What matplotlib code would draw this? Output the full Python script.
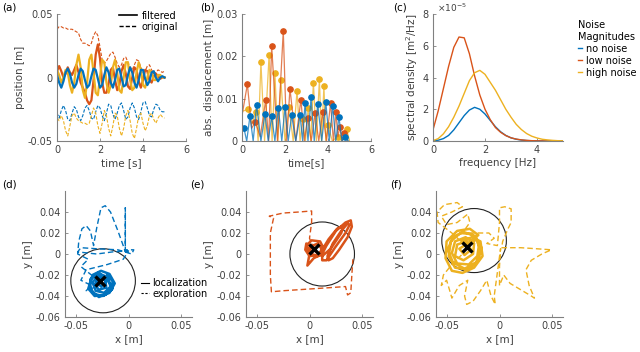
import numpy as np
import matplotlib
matplotlib.use("Agg")
import matplotlib.pyplot as plt
from matplotlib.lines import Line2D
from matplotlib.patches import Circle

plt.rcParams['font.family'] = ['DejaVu Sans']

BLUE = '#0072BD'
ORANGE = '#D95319'
YELLOW = '#EDB120'
TXT = '#404040'
SPINE = '#808080'

# ---- (a) position vs time ----
t_a = [i / 10 for i in range(51)]
a_blue = [0.002, -0.004, -0.008, -0.003, 0.004, 0.007, 0.003, -0.004, -0.008, -0.005,
          0.002, 0.007, 0.005, -0.002, -0.008, -0.006, 0.001, 0.007, 0.006, -0.001,
          -0.008, -0.006, 0.002, 0.008, 0.004, -0.004, -0.008, -0.002, 0.006, 0.007,
          0.000, -0.007, -0.006, 0.002, 0.008, 0.004, -0.004, -0.008, -0.002, 0.006,
          0.006, -0.001, -0.006, -0.003, 0.004, 0.005, 0.000, -0.003, 0.000, 0.001, 0.000]
a_orange = [0.005, 0.009, 0.005, 0.000, 0.003, 0.008, 0.004, 0.002, 0.006, 0.010,
            0.004, -0.004, -0.008, -0.012, -0.018, -0.021, -0.018, -0.002, 0.018, 0.026,
            0.015, -0.004, -0.012, -0.012, -0.005, 0.006, 0.008, -0.002, -0.010, -0.006,
            0.005, 0.010, 0.003, -0.007, -0.009, 0.000, 0.008, 0.006, -0.003, -0.008,
            -0.002, 0.006, 0.005, -0.002, -0.004, 0.001, 0.003, 0.001, -0.001, 0.000, 0.000]
a_yellow = [0.006, 0.002, -0.004, 0.000, 0.006, 0.004, -0.006, -0.012, -0.004, 0.010,
            0.018, 0.008, -0.010, -0.016, -0.004, 0.014, 0.018, 0.004, -0.012, -0.014,
            0.000, 0.014, 0.012, -0.004, -0.012, -0.006, 0.008, 0.014, 0.004, -0.010,
            -0.012, 0.000, 0.012, 0.012, -0.002, -0.010, -0.008, 0.004, 0.012, 0.006,
            -0.006, -0.008, 0.000, 0.006, 0.004, -0.002, -0.002, 0.002, 0.002, 0.000, 0.000]
a_orange_raw = [0.038, 0.040, 0.040, 0.039, 0.039, 0.038, 0.038, 0.038, 0.037, 0.036,
                0.035, 0.030, 0.027, 0.027, 0.026, 0.025, 0.027, 0.033, 0.036, 0.033,
                0.024, 0.014, 0.011, 0.013, 0.016, 0.019, 0.020, 0.016, 0.011, 0.008,
                0.010, 0.015, 0.016, 0.012, 0.008, 0.006, 0.010, 0.014, 0.013, 0.008,
                0.004, 0.005, 0.009, 0.010, 0.006, 0.003, 0.004, 0.006, 0.005, 0.004, 0.005]
a_blue_raw = [-0.028, -0.032, -0.026, -0.022, -0.026, -0.033, -0.034, -0.028, -0.023, -0.025,
              -0.031, -0.034, -0.030, -0.024, -0.022, -0.026, -0.032, -0.033, -0.027, -0.022,
              -0.024, -0.030, -0.034, -0.028, -0.021, -0.022, -0.029, -0.033, -0.028, -0.022,
              -0.020, -0.026, -0.033, -0.031, -0.024, -0.020, -0.024, -0.031, -0.033, -0.027,
              -0.020, -0.019, -0.024, -0.030, -0.031, -0.025, -0.021, -0.022, -0.026, -0.027, -0.027]
a_yellow_raw = [-0.032, -0.034, -0.030, -0.034, -0.042, -0.046, -0.038, -0.030, -0.028, -0.032,
                -0.034, -0.035, -0.036, -0.036, -0.037, -0.036, -0.030, -0.024, -0.028, -0.038,
                -0.044, -0.036, -0.026, -0.030, -0.040, -0.046, -0.038, -0.028, -0.030, -0.040,
                -0.046, -0.040, -0.030, -0.026, -0.034, -0.044, -0.048, -0.040, -0.030, -0.028,
                -0.036, -0.042, -0.038, -0.030, -0.028, -0.033, -0.036, -0.032, -0.029, -0.031, -0.032]

# ---- (b) abs. displacement: peaks (with markers) and lows ----
b_blue_pk_t = [0.09, 0.37, 0.68, 1.07, 1.38, 1.69, 2.00, 2.31, 2.70, 2.93, 3.21, 3.52, 3.90, 4.22, 4.51, 4.80]
b_blue_pk_v = [0.003, 0.0059, 0.0085, 0.0063, 0.0059, 0.0079, 0.008, 0.0061, 0.0061, 0.0089,
               0.0103, 0.0087, 0.0091, 0.0083, 0.0056, 0.001]
b_blue_lo_t = [0.0, 0.22, 0.52, 0.88, 1.22, 1.53, 1.85, 2.15, 2.50, 2.82, 3.07, 3.36, 3.71, 4.06, 4.36, 4.65, 4.95]
b_blue_lo_v = [0.002, 0, 0, 0, 0, 0, 0, 0, 0, 0, 0, 0, 0, 0, 0, 0, 0]

b_orange_pk_t = [0.25, 0.62, 1.10, 1.38, 1.92, 2.23, 2.74, 3.05, 3.40, 3.75, 4.12, 4.37, 4.55, 4.75]
b_orange_pk_v = [0.0134, 0.0045, 0.0096, 0.0224, 0.026, 0.0124, 0.0098, 0.0055, 0.0065, 0.0068,
                 0.009, 0.0068, 0.0034, 0.0018]
b_orange_lo_t = [0.0, 0.45, 0.85, 1.24, 1.65, 2.08, 2.50, 2.90, 3.22, 3.57, 3.93, 4.25, 4.46, 4.65, 4.90]
b_orange_lo_v = [0.006, 0.003, 0.001, 0, 0, 0, 0, 0, 0, 0, 0, 0, 0.001, 0, 0]

b_yellow_pk_t = [0.29, 0.65, 0.88, 1.26, 1.53, 1.81, 2.19, 2.56, 2.82, 3.08, 3.32, 3.60, 3.81, 4.00, 4.45, 4.87]
b_yellow_pk_v = [0.0075, 0.0069, 0.0186, 0.0203, 0.016, 0.0143, 0.008, 0.0119, 0.0051, 0.0079,
                 0.0138, 0.0146, 0.013, 0.0038, 0.001, 0.0028]
b_yellow_lo_t = [0.0, 0.45, 0.75, 1.05, 1.40, 1.67, 2.00, 2.38, 2.70, 2.95, 3.20, 3.46, 3.70, 3.90, 4.20, 4.65, 5.00]
b_yellow_lo_v = [0.007, 0.004, 0, 0, 0, 0, 0, 0, 0, 0, 0, 0, 0, 0, 0, 0, 0]

# ---- (c) spectral density (x1e-5) ----
freq = [0.0, 0.2, 0.4, 0.6, 0.8, 1.0, 1.2, 1.4, 1.6, 1.8, 2.0, 2.2, 2.4, 2.6, 2.8, 3.0,
        3.2, 3.4, 3.6, 3.8, 4.0, 4.2, 4.4, 4.6, 4.8, 5.0]
psd_none = [0.02, 0.05, 0.15, 0.35, 0.70, 1.15, 1.60, 1.95, 2.12, 2.00, 1.70, 1.30, 0.90, 0.58,
            0.35, 0.20, 0.11, 0.06, 0.03, 0.015, 0.008, 0.004, 0.002, 0.001, 0.0, 0.0]
psd_low = [0.70, 1.90, 3.30, 4.70, 5.90, 6.55, 6.50, 5.50, 4.10, 2.90, 2.00, 1.35, 0.85, 0.55,
           0.34, 0.20, 0.12, 0.07, 0.04, 0.02, 0.01, 0.005, 0.002, 0.001, 0.0, 0.0]
psd_high = [0.02, 0.15, 0.45, 0.90, 1.50, 2.20, 3.00, 3.80, 4.30, 4.45, 4.20, 3.70, 3.20, 2.60,
            2.00, 1.50, 1.05, 0.72, 0.47, 0.30, 0.19, 0.11, 0.07, 0.04, 0.02, 0.01]
noise_labels = ['no noise', 'low noise', 'high noise']

# ---- (d)-(f) trajectories ----
d_loc_x = [-0.027, -0.020, -0.015, -0.016, -0.024, -0.033, -0.037, -0.034, -0.026, -0.018,
           -0.013, -0.018, -0.028, -0.036, -0.036, -0.029, -0.020, -0.017, -0.023, -0.031,
           -0.034, -0.029, -0.022, -0.021, -0.028, -0.032, -0.028, -0.019, -0.015, -0.022,
           -0.032, -0.038, -0.035, -0.027, -0.021, -0.026, -0.030]
d_loc_y = [-0.026, -0.020, -0.026, -0.034, -0.040, -0.038, -0.030, -0.020, -0.016, -0.019,
           -0.028, -0.037, -0.041, -0.034, -0.024, -0.018, -0.022, -0.031, -0.037, -0.035,
           -0.027, -0.021, -0.024, -0.032, -0.034, -0.029, -0.023, -0.025, -0.033, -0.039,
           -0.040, -0.033, -0.023, -0.019, -0.027, -0.031, -0.026]
d_exp_x = [-0.027, -0.035, -0.045, -0.038, -0.048, -0.047, -0.044, -0.040, -0.036, -0.033,
           -0.030, -0.026, -0.022, -0.017, -0.010, -0.005, -0.003, -0.003, -0.003, 0.005,
           0.003, -0.010, -0.030, -0.045, -0.048, -0.030, -0.015, 0.000, -0.005, -0.020,
           -0.040, -0.045, -0.035, -0.040, -0.028]
d_exp_y = [-0.025, -0.020, -0.012, -0.005, 0.000, 0.012, 0.024, 0.027, 0.022, 0.008,
           0.025, 0.044, 0.046, 0.040, 0.022, 0.008, 0.002, 0.044, 0.004, 0.004,
           0.000, 0.004, 0.005, 0.006, 0.002, 0.000, 0.002, 0.003, -0.005, -0.010,
           -0.015, -0.025, -0.030, -0.035, -0.030]

e_loc_x = [0.004, -0.003, -0.004, 0.000, 0.008, 0.013, 0.010, 0.002, -0.003, 0.000,
           -0.002, 0.004, 0.012, 0.016, 0.025, 0.034, 0.039, 0.040, 0.036, 0.028,
           0.022, 0.018, 0.017, 0.022, 0.030, 0.036, 0.038, 0.034, 0.024, 0.016,
           0.012, 0.012, 0.018, 0.026, 0.032, 0.030, 0.020, 0.012, 0.006, 0.003,
           0.008, 0.012, 0.008, 0.002, 0.000, 0.004]
e_loc_y = [0.005, 0.010, 0.004, -0.002, -0.001, 0.006, 0.012, 0.013, 0.008, 0.000,
           -0.011, -0.004, 0.000, 0.008, 0.022, 0.030, 0.032, 0.026, 0.016, 0.004,
           -0.004, -0.006, -0.002, 0.010, 0.022, 0.029, 0.028, 0.020, 0.006, -0.006,
           -0.006, 0.004, 0.014, 0.024, 0.027, 0.020, 0.005, -0.002, 0.002, 0.008,
           0.010, 0.004, -0.002, 0.000, 0.006, 0.005]
e_exp_x = [0.004, 0.000, 0.002, 0.002, -0.010, -0.025, -0.038, -0.034, -0.037, -0.037,
           -0.037, -0.036, -0.025, -0.010, 0.005, 0.020, 0.034, 0.036, 0.039, 0.040, 0.041]
e_exp_y = [0.005, 0.015, 0.030, 0.041, 0.040, 0.039, 0.036, 0.034, 0.020, 0.000,
           -0.020, -0.036, -0.035, -0.034, -0.033, -0.032, -0.031, -0.039, -0.037, -0.020, -0.005]

f_loc_x = [-0.031, -0.022, -0.018, -0.022, -0.033, -0.044, -0.049, -0.044, -0.034, -0.023,
           -0.017, -0.020, -0.030, -0.042, -0.048, -0.046, -0.037, -0.026, -0.019, -0.021,
           -0.029, -0.040, -0.045, -0.042, -0.032, -0.024, -0.025, -0.034, -0.042, -0.040,
           -0.031, -0.027, -0.033, -0.038, -0.030, -0.020, -0.028, -0.040, -0.050, -0.051,
           -0.045, -0.035, -0.024, -0.016, -0.018, -0.026, -0.036, -0.031]
f_loc_y = [0.007, 0.014, 0.004, -0.008, -0.014, -0.008, 0.004, 0.016, 0.021, 0.017,
           0.006, -0.006, -0.015, -0.013, -0.002, 0.012, 0.020, 0.019, 0.011, -0.002,
           -0.010, -0.009, 0.001, 0.012, 0.016, 0.010, 0.000, -0.006, -0.002, 0.009,
           0.012, 0.004, -0.001, 0.005, 0.010, 0.018, 0.024, 0.022, 0.012, -0.004,
           -0.016, -0.018, -0.013, -0.002, 0.012, 0.016, 0.012, 0.007]
f_exp_x = [-0.031, -0.045, -0.058, -0.059, -0.052, -0.040, -0.035, -0.045, -0.055, -0.050,
           -0.040, -0.030, -0.028, -0.035, -0.020, -0.010, -0.005, -0.012, -0.002, 0.000,
           0.000, 0.005, 0.011, 0.011, 0.008, 0.003, 0.002, 0.020, 0.035, 0.049,
           0.040, 0.030, 0.025, 0.028, 0.033, 0.030, 0.020, 0.010, 0.004, 0.000,
           0.000, 0.001, -0.005, -0.004, -0.008, -0.012, -0.018, -0.025, -0.031, -0.033,
           -0.030, -0.038, -0.045, -0.047, -0.050, -0.055, -0.053, -0.045, -0.035]
f_exp_y = [0.007, 0.020, 0.030, 0.040, 0.047, 0.049, 0.045, 0.040, 0.036, 0.028,
           0.030, 0.038, 0.030, 0.020, 0.020, 0.020, 0.015, 0.010, 0.008, 0.030,
           0.044, 0.045, 0.043, 0.030, 0.024, 0.012, 0.006, 0.006, 0.005, 0.004,
           0.000, -0.006, -0.015, -0.030, -0.042, -0.040, -0.034, -0.028, -0.020, -0.030,
           -0.012, 0.005, -0.040, -0.048, -0.040, -0.025, -0.035, -0.045, -0.048, -0.040,
           -0.025, -0.030, -0.042, -0.035, -0.025, -0.030, -0.020, -0.010, 0.000]

circle_x = [-0.024, 0.012, -0.024]
circle_y = [-0.0255, 0.0, 0.0128]
circle_r = [0.0305, 0.0305, 0.0305]
target_x = [-0.027, 0.004, -0.031]
target_y = [-0.026, 0.005, 0.0066]


def style(ax, fs=7):
    for s in ['top', 'right']:
        ax.spines[s].set_visible(False)
    for s in ['left', 'bottom']:
        ax.spines[s].set_color(SPINE)
        ax.spines[s].set_linewidth(0.8)
    ax.tick_params(direction='in', length=2.5, width=0.6, colors=SPINE,
                   labelcolor=TXT, labelsize=fs, pad=3)


def zigzag(pk_t, pk_v, lo_t, lo_v):
    t = np.array(pk_t + lo_t)
    v = np.array(pk_v + lo_v)
    o = np.argsort(t)
    return t[o], v[o]


fig = plt.figure(figsize=(6.4, 3.52), dpi=100)
W, H = 640.0, 352.0


def axes_px(l, t, r, b):
    return fig.add_axes([l / W, 1 - b / H, (r - l) / W, (b - t) / H])


# (a)
ax = axes_px(57, 14, 186, 141)
style(ax)
for y, c in [(a_orange_raw, ORANGE), (a_blue_raw, BLUE), (a_yellow_raw, YELLOW)]:
    ax.plot(t_a, y, '--', color=c, lw=0.8, dashes=(3, 1.5))
ax.plot(t_a, a_orange, color=ORANGE, lw=1.6)
ax.plot(t_a, a_yellow, color=YELLOW, lw=1.6)
ax.plot(t_a, a_blue, color=BLUE, lw=1.6)
ax.set_xlim(0, 6)
ax.set_ylim(-0.05, 0.05)
ax.set_xticks([0, 2, 4, 6])
ax.set_yticks([-0.05, 0, 0.05])
ax.set_yticklabels(['-0.05', '0', '0.05'])
ax.set_xlabel('time [s]', fontsize=7.5, color=TXT, labelpad=2)
ax.set_ylabel('position [m]', fontsize=7.5, color=TXT, labelpad=2)
h = [Line2D([], [], color='k', lw=1.2), Line2D([], [], color='k', lw=1.0, ls='--', dashes=(3, 1.5))]
ax.legend(h, ['filtered', 'original'], loc='upper right', bbox_to_anchor=(0.99, 1.08),
          frameon=False, fontsize=7, handlelength=1.8, handletextpad=0.5,
          labelspacing=0.1, borderpad=0.2)
fig.text(2 / W, 1 - 8 / H, '(a)', fontsize=7.5, va='center')

# (b)
ax = axes_px(242, 14, 371, 141)
style(ax)
for pk_t, pk_v, lo_t, lo_v, c in [
        (b_yellow_pk_t, b_yellow_pk_v, b_yellow_lo_t, b_yellow_lo_v, YELLOW),
        (b_orange_pk_t, b_orange_pk_v, b_orange_lo_t, b_orange_lo_v, ORANGE),
        (b_blue_pk_t, b_blue_pk_v, b_blue_lo_t, b_blue_lo_v, BLUE)]:
    tt, vv = zigzag(pk_t, pk_v, lo_t, lo_v)
    ax.plot(tt, vv, color=c, lw=0.9, alpha=0.75)
    ax.plot(pk_t, pk_v, 'o', color=c, ms=3.8, mec=c)
ax.set_xlim(0, 6)
ax.set_ylim(0, 0.03)
ax.set_xticks([0, 2, 4, 6])
ax.set_yticks([0, 0.01, 0.02, 0.03])
ax.set_yticklabels(['0', '0.01', '0.02', '0.03'])
ax.set_xlabel('time[s]', fontsize=7.5, color=TXT, labelpad=2)
ax.set_ylabel('abs. displacement [m]', fontsize=7.5, color=TXT, labelpad=2)
fig.text(200 / W, 1 - 8 / H, '(b)', fontsize=7.5, va='center')

# (c)
ax = axes_px(433, 14, 563, 141)
style(ax)
for p, c, lab in zip([psd_none, psd_low, psd_high], [BLUE, ORANGE, YELLOW], noise_labels):
    ax.plot(freq, p, color=c, lw=1.0, label=lab)
ax.set_xlim(0, 5)
ax.set_ylim(0, 8)
ax.set_xticks([0, 2, 4])
ax.set_yticks([0, 2, 4, 6, 8])
ax.set_yticklabels(['0', '2', '4', '6', '8'])
fig.text(437 / W, 1 - 8 / H, r'$\times 10^{-5}$', fontsize=6.5, color=TXT, va='center')
ax.set_xlabel('frequency [Hz]', fontsize=7.5, color=TXT, labelpad=2)
ax.set_ylabel('spectral density [m$^2$/Hz]', fontsize=7.5, color=TXT, labelpad=2)
leg = ax.legend(loc='upper left', bbox_to_anchor=(1.05, 1.02), frameon=False, fontsize=7,
                handlelength=0.4, handletextpad=0.4, labelspacing=0.2,
                title='Noise\nMagnitudes', title_fontsize=7, alignment='left')
fig.text(393 / W, 1 - 8 / H, '(c)', fontsize=7.5, va='center')

# (d)-(f)
panels = [
    (65, d_loc_x, d_loc_y, d_exp_x, d_exp_y, BLUE, '(d)', 2),
    (246, e_loc_x, e_loc_y, e_exp_x, e_exp_y, ORANGE, '(e)', 190),
    (436, f_loc_x, f_loc_y, f_exp_x, f_exp_y, YELLOW, '(f)', 390),
]
for i, (left, lx, ly, ex, ey, c, tag, tx) in enumerate(panels):
    ax = axes_px(left, 191, left + 127, 317)
    style(ax)
    ax.plot(ex, ey, '--', color=c, lw=1.0, dashes=(4, 2.2))
    ax.plot(lx, ly, color=c, lw=1.8)
    ax.add_patch(Circle((circle_x[i], circle_y[i]), circle_r[i], fill=False, ec='#222222', lw=0.8))
    ax.plot(target_x[i], target_y[i], 'x', color='k', ms=7, mew=2.4)
    ax.set_xlim(-0.06, 0.06)
    ax.set_ylim(-0.06, 0.06)
    ax.set_xticks([-0.05, 0, 0.05])
    ax.set_xticklabels(['-0.05', '0', '0.05'])
    ax.set_yticks([-0.06, -0.04, -0.02, 0, 0.02, 0.04])
    ax.set_yticklabels(['-0.06', '-0.04', '-0.02', '0', '0.02', '0.04'])
    ax.set_xlabel('x [m]', fontsize=7.5, color=TXT, labelpad=2)
    ax.set_ylabel('y [m]', fontsize=7.5, color=TXT, labelpad=2)
    fig.text(tx / W, 1 - 185 / H, tag, fontsize=7.5, va='center')
    if i == 0:
        h = [Line2D([], [], color='k', lw=0.8), Line2D([], [], color='k', lw=0.8, ls='--', dashes=(2, 1.5))]
        ax.legend(h, ['localization', 'exploration'], loc='lower right',
                  bbox_to_anchor=(1.17, 0.1), frameon=False, fontsize=7,
                  handlelength=0.8, handletextpad=0.4, labelspacing=0.05, borderpad=0.1)

fig.savefig('out.png', dpi=100)
